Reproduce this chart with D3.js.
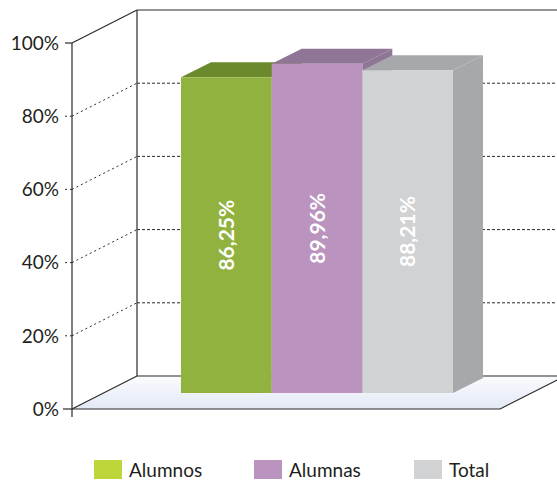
<!DOCTYPE html>
<html>
<head>
<meta charset="utf-8">
<script src="https://cdn.jsdelivr.net/npm/d3@7"></script>
<style>
body { margin:0; background:#fff; }
text { font-family: Lato, "DejaVu Sans", sans-serif; }
</style>
</head>
<body>
<script>
var categories = ["Alumnos", "Alumnas", "Total"];
var values = [86.25, 89.96, 88.21];
var labels = ["86,25%", "89,96%", "88,21%"];
var ticks = [0, 20, 40, 60, 80, 100];
var tickLabels = ["0%", "20%", "40%", "60%", "80%", "100%"];

var frontColors  = ["#92b23f", "#ba93be", "#d1d2d4"];
var topColors    = ["#6b8a2e", "#8f7596", "#a7a8ab"];
var legendColors = ["#bed63a", "#ba93be", "#d1d2d4"];

var W = 557, H = 484;
var depth = { x: 65, y: -33 };     // full depth of the floor
var barOff = { x: 31, y: -16 };    // bar front plane
var barDepth = { x: 30, y: -15 };  // bar thickness

var svg = d3.select("body")
	.append("svg")
	.attr("width", W)
	.attr("height", H);

var y = d3.scaleLinear()
	.domain([0, 100])
	.range([409, 43]);

var x = d3.scaleBand()
	.domain(categories)
	.range([72, 500])
	.paddingInner(0)
	.paddingOuter(0.86);

var x0 = 72, x1 = 500;
var ink = "#2b2b2b";

var defs = svg.append("defs");
var grad = defs.append("linearGradient")
	.attr("id", "floor")
	.attr("x1", 0).attr("y1", 0).attr("x2", 0).attr("y2", 1);
grad.append("stop").attr("offset", "0%").attr("stop-color", "#fbfcfe");
grad.append("stop").attr("offset", "100%").attr("stop-color", "#e2e8f5");

// floor
svg.append("path")
	.attr("fill", "url(#floor)")
	.attr("d", poly([[x0, y(0)], [x1, y(0)], [x1 + depth.x, y(0) + depth.y], [x0 + depth.x, y(0) + depth.y]]));

// grid lines (dotted)
var grid = svg.append("g")
	.attr("stroke", ink)
	.attr("stroke-width", 1)
	.attr("fill", "none");

grid.selectAll().data(ticks.slice(1, -1))
	.enter().append("path")
	.attr("stroke-dasharray", "2,3")
	.attr("d", function(d){
		return "M" + (x0 - 7) + " " + y(d) + " L" + x0 + " " + y(d) +
			" M" + x0 + " " + y(d) + " L" + (x0 + depth.x) + " " + (y(d) + depth.y);
	});

grid.selectAll().data(ticks.slice(1, -1))
	.enter().append("path")
	.attr("stroke-dasharray", "3,2")
	.attr("d", function(d){
		return path_line(x0 + depth.x, y(d) + depth.y, W, y(d) + depth.y);
	});

// solid frame
var frame = svg.append("g")
	.attr("stroke", ink)
	.attr("stroke-width", 1.2)
	.attr("fill", "none");

frame.append("path").attr("d", path_line(x0 + depth.x, y(100) + depth.y, x0 + depth.x, y(0) + depth.y));
frame.append("path").attr("d", path_line(x0 + depth.x, y(100) + depth.y, W, y(100) + depth.y));
frame.append("path").attr("d", path_line(x0, y(100), x0 + depth.x, y(100) + depth.y));
frame.append("path").attr("d", path_line(x0 + depth.x, y(0) + depth.y, x1 + depth.x, y(0) + depth.y));
frame.append("path").attr("d", path_line(x0, y(0), x0 + depth.x, y(0) + depth.y));
frame.append("path").attr("d", path_line(x0, y(0), x1, y(0)));
frame.append("path").attr("d", path_line(x1, y(0), x1 + depth.x, y(0) + depth.y));
frame.append("path").attr("d", path_line(x0, y(100), x0, y(0) + 8));
frame.append("path").attr("d", path_line(x0 - 7, y(100), x0, y(100)));
frame.append("path").attr("d", path_line(x0 - 9, y(0), x0, y(0)));

// axis labels
svg.selectAll().data(ticks)
	.enter().append("text")
	.attr("x", 59)
	.attr("y", function(d){ return y(d); })
	.attr("dy", "0.36em")
	.attr("text-anchor", "end")
	.attr("font-size", 19)
	.attr("fill", "#231f20")
	.text(function(d, i){ return tickLabels[i]; });

// bars
var bar = svg.selectAll(".bar").data(categories)
	.enter().append("g")
	.attr("class", "bar");

bar.append("path")
	.attr("fill", function(d, i){ return topColors[i]; })
	.attr("d", function(d, i){
		var l = x(d) + barOff.x, r = l + x.bandwidth(), t = y(values[i]) + barOff.y, b = y(0) + barOff.y;
		return poly([[r, t], [r + barDepth.x, t + barDepth.y], [r + barDepth.x, b + barDepth.y], [r, b]]);
	});

bar.append("path")
	.attr("fill", function(d, i){ return topColors[i]; })
	.attr("d", function(d, i){
		var l = x(d) + barOff.x, r = l + x.bandwidth(), t = y(values[i]) + barOff.y;
		return poly([[l, t], [l + barDepth.x, t + barDepth.y], [r + barDepth.x, t + barDepth.y], [r, t]]);
	});

bar.append("rect")
	.attr("fill", function(d, i){ return frontColors[i]; })
	.attr("x", function(d){ return x(d) + barOff.x; })
	.attr("y", function(d, i){ return y(values[i]) + barOff.y; })
	.attr("width", x.bandwidth())
	.attr("height", function(d, i){ return y(0) - y(values[i]); });

bar.append("text")
	.attr("transform", function(d, i){
		var cx = x(d) + barOff.x + x.bandwidth() / 2;
		var cy = (y(values[i]) + y(0)) / 2 + barOff.y;
		return translate(cx, cy) + " rotate(-90)";
	})
	.attr("text-anchor", "middle")
	.attr("dy", "0.36em")
	.attr("font-size", 21)
	.attr("font-weight", "bold")
	.attr("fill", "#fff")
	.text(function(d, i){ return labels[i]; });

// legend
var legend = svg.selectAll(".legend").data(categories)
	.enter().append("g")
	.attr("class", "legend")
	.attr("transform", function(d, i){ return translate(94 + i * 160, 460); });

legend.append("rect")
	.attr("width", 28)
	.attr("height", 19)
	.attr("fill", function(d, i){ return legendColors[i]; });

legend.append("text")
	.attr("x", 35)
	.attr("y", 17)
	.attr("font-size", 19)
	.attr("fill", "#231f20")
	.text(function(d){ return d; });

function poly(pts){
	return "M" + pts.map(function(p){ return p[0] + " " + p[1]; }).join(" L") + " Z";
}
function path_line(xa, ya, xb, yb){
	return "M" + xa + " " + ya + " L" + xb + " " + yb;
}
function translate(a, b){
	return "translate(" + a + "," + b + ")";
}
</script>
</body>
</html>
